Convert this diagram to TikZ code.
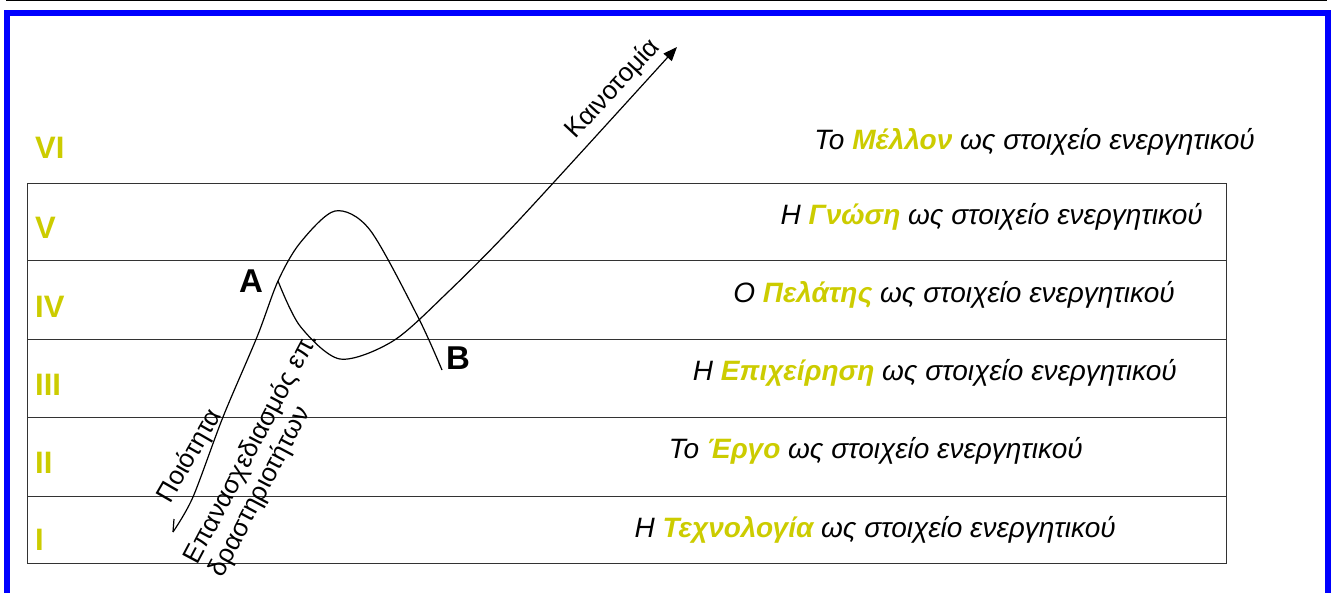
\documentclass[tikz,border=0pt]{standalone}
\usepackage{fontspec}
\setmainfont{Liberation Sans}
\usetikzlibrary{arrows.meta}

\definecolor{lvlyellow}{RGB}{204,204,0}
\definecolor{frameblue}{RGB}{0,0,255}
\newcommand{\kw}[1]{\textcolor{lvlyellow}{\bfseries #1}}

\begin{document}
\begin{tikzpicture}[
  x=1pt,
  y=-1pt,
  lvl/.style={anchor=west, text=lvlyellow, inner sep=0pt, font=\fontsize{31}{36}\selectfont\bfseries},
  asset/.style={anchor=east, inner sep=0pt, font=\fontsize{28}{33}\selectfont\itshape},
  lbl/.style={inner sep=0pt, font=\fontsize{26}{28}\selectfont},
  pointlbl/.style={inner sep=0pt, font=\fontsize{33}{38}\selectfont\bfseries},
  band/.style={draw=black!80, line width=1pt},
  curve/.style={line width=1.2pt, line join=round}
]
\useasboundingbox (0,0) rectangle (1331,592);
\clip (0,0) rectangle (1331,592);

% Rama
\draw[line width=1pt] (6,0.5) -- (1327,0.5);
\draw[frameblue, line width=6pt] (7,13) rectangle (1328,630);

% Benzi
\draw[band] (27,183) rectangle (1226,563);
\foreach \y in {260,339,417,496}
  \draw[band] (27,\y) -- (1226,\y);

% Niveluri
\foreach \r/\y in {VI/148, V/228, IV/307, III/385, II/463, I/540}
  \node[lvl] (lvl\r) at (35,\y) {\r};

% Texte din dreapta
\node[asset] (future) at (1255,142) {Το \kw{Μέλλον} ως στοιχείο ενεργητικού};
\node[asset] (knowledge) at (1203,217) {Η \kw{Γνώση} ως στοιχείο ενεργητικού};
\node[asset] (customer) at (1175,295) {Ο \kw{Πελάτης} ως στοιχείο ενεργητικού};
\node[asset] (business) at (1177,373) {Η \kw{Επιχείρηση} ως στοιχείο ενεργητικού};
\node[asset] (project) at (1083,451) {Το \kw{Έργο} ως στοιχείο ενεργητικού};
\node[asset] (technology) at (1116,530) {Η \kw{Τεχνολογία} ως στοιχείο ενεργητικού};

% Punctele A, B
\node[pointlbl] (A) at (251,281) {A};
\node[pointlbl] (B) at (458,358) {B};

\coordinate (hook) at (174,519);
\coordinate (qstart) at (173,532);
\coordinate (junction) at (278,281);
\coordinate (bend) at (442,370);
\coordinate (tip) at (677,47);

% Curbe
\draw[curve] (hook) -- (qstart);
\draw[curve] plot[smooth] coordinates {(qstart) (193,497) (223,417) (257,337) (junction) (300,243) (335,211) (370,230) (418,317) (bend)};
\draw[curve, -{Triangle[length=14pt, width=11pt]}] plot[smooth] coordinates {(junction) (300,326) (340,359) (393,341) (447,293) (520,219) (tip)};

% Etichete rotite
\node[lbl, rotate=47] (innov) at (613,89) {Καινοτομία};
\node[lbl, rotate=60] (quality) at (190,456) {Ποιότητα};
\node[lbl, rotate=62, align=left] (redesign) at (264,455) {Επανασχεδιασμός επ.\\δραστηριοτήτων};

\end{tikzpicture}
\end{document}
